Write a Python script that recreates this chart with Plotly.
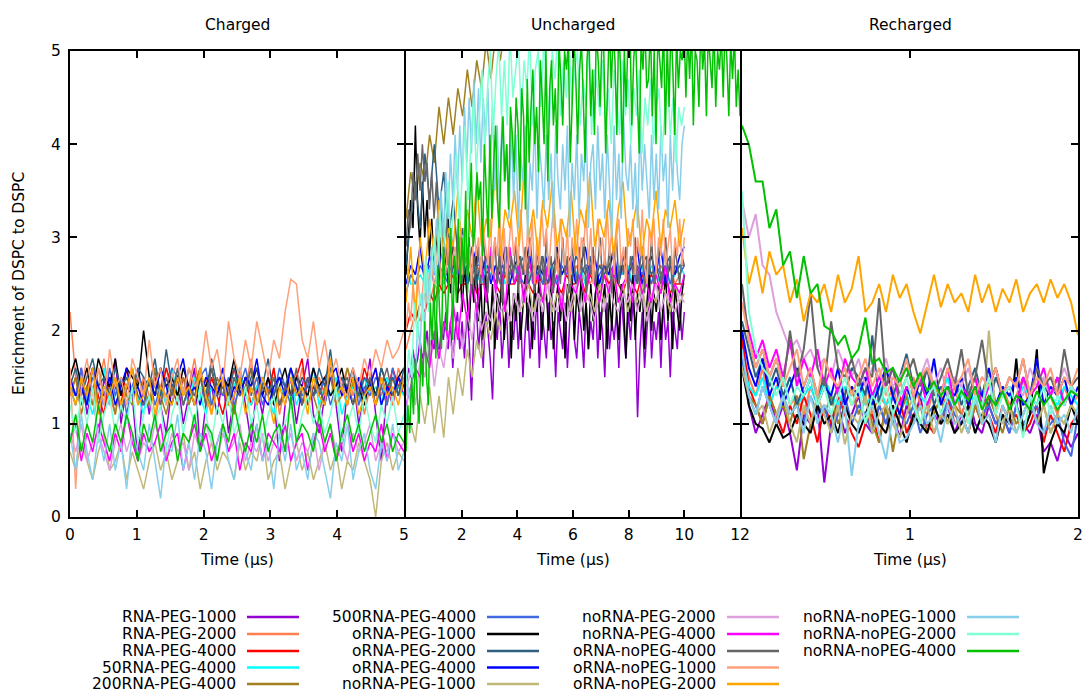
import numpy as np
import plotly.graph_objects as go

# ---------------- series names & colours ----------------
names = ["RNA-PEG-1000", "RNA-PEG-2000", "RNA-PEG-4000", "50RNA-PEG-4000", "200RNA-PEG-4000",
         "500RNA-PEG-4000", "oRNA-PEG-1000", "oRNA-PEG-2000", "oRNA-PEG-4000", "noRNA-PEG-1000",
         "noRNA-PEG-2000", "noRNA-PEG-4000", "oRNA-noPEG-4000", "oRNA-noPEG-1000", "oRNA-noPEG-2000",
         "noRNA-noPEG-1000", "noRNA-noPEG-2000", "noRNA-noPEG-4000"]
colors = ["#9400D3", "#FF7F50", "#FF0000", "#00FFFF", "#A08020",
          "#4169E1", "#000000", "#306080", "#0000FF", "#C0B878",
          "#DDA0DD", "#FF00FF", "#666666", "#FFA07A", "#FFA500",
          "#87CEEB", "#7FFFD4", "#00C000"]

panel_titles = ["Charged", "Uncharged", "Recharged"]
panel_xmax = [5, 12, 2]
panel_ticks = [[0, 1, 2, 3, 4, 5], [0, 2, 4, 6, 8, 10, 12], [0, 1, 2]]
panel_ticktext = [["0", "1", "2", "3", "4", "5"], ["", "2", "4", "6", "8", "10", "12"], ["", "1", "2"]]
y_ticks = [0, 1, 2, 3, 4, 5]

# ---------------- Charged (0-5 us) ----------------
c_rna_peg1000 = [1.5,1.3,1.6,1.1,1.4,0.8,1.5,1.2,1.7,1.0,1.4,1.3,0.6,1.5,1.1,1.6,1.2,0.9,1.4,1.5,1.0,1.3,1.6,0.7,1.2,1.4,1.1,1.5,0.9,1.3,1.6,1.2,0.8,1.4,1.1,1.5,1.3,0.6,1.2,1.5,1.0,1.4,1.7,1.1,0.9,1.3,1.6,1.2,0.7,1.4,1.5,1.0,1.3,1.7,1.1,0.6,1.4,1.2,1.5,1.3]
c_rna_peg2000 = [2.2,1.5,1.3,1.6,1.2,1.4,1.7,1.3,1.1,1.5,1.4,1.6,1.2,1.5,1.3,1.0,1.4,1.6,1.3,1.5,1.2,1.4,1.7,1.3,1.5,1.1,1.4,1.6,1.2,1.5,1.3,1.4,1.7,1.2,1.5,1.3,1.6,1.1,1.4,1.5,1.3,1.6,1.2,1.4,1.5,1.3,1.7,1.2,1.4,1.6,1.3,1.5,1.1,1.4,1.6,1.3,1.5,1.2,1.6,1.4]
c_rna_peg4000 = [1.3,1.5,1.2,1.4,1.6,1.3,1.1,1.5,1.4,1.2,1.6,1.3,1.5,1.4,1.2,1.5,1.3,1.6,1.4,1.2,1.5,1.3,1.4,1.6,1.2,1.5,1.3,1.1,1.4,1.6,1.3,1.5,1.2,1.4,1.5,1.3,1.6,1.2,1.4,1.3,1.5,1.7,1.2,1.4,1.3,1.5,1.6,1.3,1.4,1.2,1.5,1.3,1.6,1.4,1.2,1.5,1.3,1.6,1.4,1.5]
c_50rna_peg4000 = [1.4,1.2,1.5,1.3,1.1,1.4,1.6,1.2,1.3,1.5,1.2,1.4,1.3,1.1,1.5,1.3,1.4,1.2,1.6,1.3,1.4,1.2,1.5,1.3,1.1,1.4,1.3,1.5,1.2,1.4,1.6,1.3,1.2,1.4,1.5,1.3,1.1,1.4,1.3,1.5,1.2,1.4,1.3,1.6,1.2,1.4,1.3,1.5,1.1,1.3,1.4,1.2,1.5,1.3,1.4,1.2,1.5,1.3,1.4,1.3]
c_200rna_peg4000 = [1.3,1.5,1.1,1.4,1.2,1.6,1.3,1.4,1.1,1.5,1.3,1.2,1.5,1.4,1.2,1.6,1.3,1.1,1.4,1.3,1.5,1.2,1.4,1.6,1.3,1.2,1.5,1.3,1.4,1.1,1.5,1.3,1.6,1.2,1.4,1.3,1.5,1.2,1.3,1.6,1.4,1.2,1.5,1.3,1.1,1.4,1.5,1.2,1.3,1.6,1.4,1.3,1.2,1.5,1.3,1.4,1.2,1.5,1.3,1.4]
c_500rna_peg4000 = [1.4,1.3,1.6,1.2,1.5,1.4,1.2,1.6,1.3,1.5,1.1,1.4,1.6,1.3,1.5,1.2,1.4,1.3,1.6,1.5,1.2,1.4,1.3,1.5,1.6,1.2,1.4,1.3,1.5,1.2,1.4,1.6,1.3,1.5,1.2,1.4,1.3,1.6,1.4,1.2,1.5,1.3,1.4,1.6,1.3,1.5,1.2,1.4,1.5,1.3,1.6,1.2,1.4,1.3,1.5,1.4,1.2,1.6,1.3,1.5]
c_orna_peg1000 = [1.5,1.7,1.4,1.6,1.3,1.7,1.5,1.4,1.7,1.3,1.6,1.5,1.4,2.0,1.5,1.3,1.6,1.4,1.5,1.3,1.6,1.4,1.2,1.5,1.4,1.6,1.3,1.5,1.4,1.7,1.3,1.5,1.4,1.6,1.3,1.5,1.2,1.4,1.6,1.3,1.5,1.4,1.3,1.6,1.4,1.5,1.3,1.4,1.6,1.3,1.5,1.4,1.2,1.5,1.3,1.6,1.4,1.3,1.5,1.6]
c_orna_peg2000 = [1.4,1.6,1.3,1.5,1.7,1.4,1.5,1.3,1.6,1.4,1.5,1.3,1.6,1.5,1.4,1.7,1.3,1.8,1.4,1.5,1.3,1.6,1.4,1.5,1.3,1.7,1.4,1.5,1.3,1.6,1.4,1.3,1.5,1.6,1.4,1.7,1.3,1.5,1.4,1.6,1.3,1.5,1.4,1.3,1.6,1.4,1.8,1.3,1.5,1.4,1.6,1.3,1.5,1.4,1.3,1.6,1.4,1.5,1.3,1.6]
c_orna_peg4000 = [1.5,1.3,1.4,1.2,1.6,1.4,1.3,1.5,1.2,1.4,1.6,1.3,1.4,1.2,1.5,1.3,1.6,1.4,1.2,1.5,1.7,1.3,1.4,1.2,1.5,1.4,1.3,1.6,1.2,1.4,1.3,1.5,1.4,1.7,1.3,1.2,1.4,1.5,1.3,1.6,1.4,1.2,1.5,1.3,1.4,1.2,1.5,1.6,1.3,1.4,1.2,1.5,1.3,1.4,1.6,1.2,1.4,1.3,1.5,1.4]
c_norna_peg1000 = [0.7,0.5,0.8,0.6,0.4,0.7,0.9,0.5,0.6,0.8,0.4,0.7,0.5,0.3,0.6,0.8,0.5,0.7,0.4,0.6,0.9,0.5,0.7,0.3,0.6,0.8,0.5,0.7,0.6,0.4,0.8,0.5,0.7,0.6,0.9,0.4,0.6,0.7,0.3,0.6,0.8,0.5,0.7,0.4,0.6,0.8,0.5,0.7,0.3,0.6,0.5,0.8,0.6,0.4,0.0,0.6,0.8,0.5,0.7,0.6]
c_norna_peg2000 = [0.9,0.7,1.0,0.6,0.8,0.9,0.7,0.5,0.8,1.0,0.7,0.9,0.6,0.8,0.7,1.0,0.8,0.6,0.9,0.7,0.8,0.5,0.9,0.7,1.0,0.8,0.6,0.9,0.7,0.8,1.0,0.6,0.8,0.7,0.9,0.6,0.8,1.0,0.7,0.9,0.6,0.8,0.7,0.9,0.5,0.8,1.0,0.7,0.8,0.6,0.9,0.7,0.8,1.0,0.6,0.8,0.7,0.9,0.7,0.8]
c_norna_peg4000 = [0.8,1.0,0.6,0.9,0.7,1.0,0.8,0.6,0.9,0.7,1.1,0.8,0.6,0.9,0.7,0.8,1.0,0.6,0.8,0.9,0.5,0.8,1.0,0.7,0.9,0.6,0.8,1.0,0.7,0.9,0.5,0.8,0.7,1.0,0.6,0.9,0.8,0.7,1.0,0.6,0.8,0.9,0.5,0.8,1.0,0.7,0.9,0.6,0.8,1.0,0.7,0.9,0.6,0.8,0.7,1.0,0.6,0.9,0.8,0.7]
c_orna_nopeg4000 = [1.4,1.2,1.5,1.3,1.6,1.2,1.4,1.3,1.5,1.1,1.4,1.6,1.3,1.2,1.5,1.4,1.2,1.5,1.3,1.6,1.2,1.4,1.3,1.5,1.2,1.6,1.3,1.4,1.2,1.5,1.3,1.4,1.6,1.2,1.4,1.3,1.5,1.2,1.4,1.3,1.6,1.2,1.5,1.3,1.4,1.2,1.6,1.3,1.4,1.5,1.2,1.4,1.3,1.5,1.2,1.4,1.6,1.3,1.4,1.5]
c_orna_nopeg1000 = [1.6,0.3,1.4,1.7,1.3,1.6,1.2,1.8,1.4,1.5,1.2,1.7,1.5,1.3,1.9,1.4,1.6,1.2,1.5,1.7,1.3,1.6,1.4,1.5,2.0,1.6,1.8,1.4,2.1,1.7,1.5,1.9,1.6,2.1,1.8,1.5,1.9,1.7,2.2,2.55,2.5,1.9,1.7,2.1,1.6,1.9,1.5,1.7,1.4,1.3,1.6,1.4,1.7,1.5,1.8,1.6,1.9,1.7,1.8,2.0]
c_orna_nopeg2000 = [1.4,1.2,1.5,1.3,1.6,1.1,1.4,1.3,1.5,1.2,1.4,1.6,1.2,1.3,1.5,1.1,1.4,1.3,1.2,1.5,1.3,1.4,1.2,1.6,1.3,1.1,1.4,1.5,1.2,1.3,1.5,1.1,1.4,1.2,1.5,1.3,1.0,1.4,1.2,1.5,1.3,1.4,1.1,1.5,1.3,1.2,1.7,1.3,1.4,1.2,1.5,1.1,1.3,1.4,1.2,1.5,1.3,1.4,1.2,1.5]
c_norna_nopeg1000 = [0.9,0.5,1.1,0.7,0.4,0.9,0.6,1.0,0.5,0.8,0.3,0.9,0.7,0.5,1.0,0.6,0.2,0.8,0.7,1.1,0.5,0.8,0.4,0.9,0.7,0.3,0.8,1.0,0.6,0.4,0.9,0.7,0.5,1.0,0.6,0.8,0.3,0.9,0.6,1.0,0.5,0.7,0.4,0.9,0.8,0.5,0.2,0.8,0.6,1.0,0.4,0.7,0.9,0.5,0.3,0.8,0.6,1.0,0.5,0.7]
c_norna_nopeg2000 = [1.2,0.9,1.3,1.0,1.4,0.8,1.1,1.3,0.9,1.2,1.0,1.4,0.8,1.1,1.3,1.0,1.2,0.7,1.1,1.3,0.9,1.2,1.0,1.4,1.1,0.8,1.2,1.0,1.3,0.9,1.1,1.4,1.0,1.2,0.8,1.1,1.3,0.9,1.0,1.2,0.8,1.1,1.3,1.0,1.2,0.9,1.1,1.4,0.8,1.0,1.2,0.9,1.3,1.0,0.8,1.2,1.0,1.3,0.9,1.1]
c_norna_nopeg4000 = [0.8,1.1,0.7,1.0,0.8,1.2,0.9,0.7,1.0,0.8,1.1,0.9,0.6,1.0,0.8,1.1,0.7,0.9,1.0,0.6,0.9,0.8,1.1,0.7,1.0,0.9,0.6,1.0,0.8,1.2,0.9,0.7,1.0,0.8,1.1,0.7,0.9,1.0,0.7,1.3,0.8,1.0,0.9,0.7,1.1,0.8,1.0,0.6,0.9,1.1,0.8,1.0,0.7,0.9,1.1,0.8,1.0,0.7,0.9,0.8]

# ---------------- Uncharged (0-10 us; last series 0-12 us) ----------------
u_rna_peg1000 = [1.4,1.6,1.5,1.8,1.6,1.7,1.9,1.7,1.8,2.0,1.7,1.9,
                 1.8,2.1,1.7,2.0,1.9,2.2,1.8,2.1,1.6,2.0,2.2,1.8,
                 2.1,1.7,2.2,1.9,1.25,2.0,2.3,1.8,2.1,1.6,2.2,2.0,
                 1.7,1.26,2.1,1.9,2.3,1.7,2.0,2.2,1.6,2.1,1.9,2.3,
                 1.8,2.2,1.5,2.0,2.3,1.7,2.1,1.9,2.4,1.6,2.2,2.0,
                 1.7,2.3,1.9,2.1,1.5,2.2,2.0,1.8,2.3,1.6,2.1,2.4,
                 1.9,1.7,2.2,2.0,1.6,2.3,1.8,2.1,1.9,2.4,1.7,2.2,
                 2.0,1.5,2.3,1.8,2.1,1.9,2.2,1.6,2.4,2.0,1.7,2.2,
                 1.9,2.3,2.1,1.07,1.8,2.2,1.6,2.0,2.4,1.7,2.1,1.9,
                 2.2,1.6,2.3,1.9,2.1,1.5,2.2,2.0,1.8,2.3,1.9,2.2]
u_rna_peg2000 = [1.8,2.0,2.2,2.1,2.4,2.3,2.5,2.4,2.6,2.5,2.6,2.7,2.5,2.6,2.6,2.7,2.6,2.5,2.7,2.6,2.5,2.7,2.6,2.7,2.5,2.7,2.6,2.7,2.5,2.7,2.6,2.5,2.7,2.6,2.7,2.5,2.7,2.6,2.7,2.5,2.6,2.7,2.7,2.5,2.6,2.7,2.6,2.7,2.5,2.7,2.6,2.7,2.5,2.6,2.7,2.6,2.7,2.5,2.6,2.7]
u_rna_peg4000 = [2.0,2.2,2.1,2.3,2.2,2.4,2.3,2.5,2.4,2.5,2.6,2.4,2.5,2.5,2.6,2.4,2.5,2.5,2.6,2.5,2.4,2.6,2.5,2.5,2.6,2.4,2.5,2.4,2.6,2.5,2.5,2.6,2.5,2.4,2.6,2.5,2.5,2.6,2.4,2.6,2.5,2.4,2.6,2.5,2.6,2.5,2.4,2.6,2.5,2.4,2.6,2.5,2.6,2.5,2.4,2.6,2.4,2.5,2.5,2.5]
u_50rna_peg4000 = [2.7,2.5,2.5,2.6,2.5,2.7,2.6,2.7,2.5,2.7,2.6,2.5,2.7,2.5,2.7,2.6,2.5,2.7,2.6,2.5,2.7,2.5,2.6,2.7,2.5,2.7,2.6,2.5,2.7,2.5,2.6,2.7,2.5,2.6,2.7,2.5,2.6,2.7,2.5,2.7,2.6,2.5,2.7,2.6,2.5,2.7,2.6,2.7,2.5,2.6,2.7,2.5,2.7,2.6,2.5,2.7,2.5,2.6,2.7,2.6]
u_200rna_peg4000 = [3.2,3.7,3.4,3.8,3.6,4.1,3.8,4.4,4.0,4.5,4.1,4.6,4.3,4.8,4.4,4.9,4.6,5.1,4.7,5.2,4.9,5.3,5.1,5.4,5.3,5.5,5.4,5.6,5.5,5.7,5.6,5.8,5.6,5.7,5.8,5.9,5.7,5.9,6.0,5.8,6.0,6.1,5.9,6.0,6.1,6.2,6.0,6.1,6.2,6.3,6.1,6.2,6.3,6.2,6.4,6.3,6.2,6.4,6.3,6.4]
u_500rna_peg4000 = [2.4,2.6,2.5,2.7,2.6,2.7,2.5,2.7,2.6,2.5,2.7,2.6,2.7,2.5,2.6,2.7,2.7,2.5,2.6,2.7,2.5,2.7,2.6,2.7,2.6,2.5,2.7,2.6,2.7,2.5,2.7,2.6,2.5,2.7,2.6,2.7,2.5,2.6,2.7,2.7,2.5,2.6,2.7,2.6,2.7,2.5,2.7,2.6,2.5,2.7,2.6,2.7,2.5,2.7,2.6,2.7,2.5,2.7,2.6,2.7]
u_orna_peg1000 = [2.6,3.0,3.4,3.1,4.2,3.3,2.9,3.6,3.0,3.4,2.8,3.2,
                  2.7,3.1,2.5,3.0,2.8,2.6,3.2,2.4,2.9,2.6,2.3,2.8,
                  2.2,2.7,2.4,2.0,2.6,2.3,2.8,2.1,2.5,1.9,2.6,2.3,
                  2.0,2.5,1.8,2.4,2.2,2.6,1.9,2.3,2.5,1.7,2.4,2.1,
                  2.5,1.9,2.3,2.6,2.0,2.4,1.8,2.5,2.2,2.6,1.9,2.3,
                  2.4,2.0,2.6,1.8,2.3,2.5,2.1,2.4,1.7,2.5,2.2,2.6,
                  1.9,2.4,2.2,2.6,2.0,2.3,1.8,2.5,2.1,2.4,2.6,1.9,
                  2.3,2.5,1.8,2.4,2.0,2.6,2.2,1.9,2.5,2.3,1.7,2.4,
                  2.1,2.6,1.9,2.4,2.2,2.5,1.8,2.3,2.6,2.0,2.4,2.2,
                  2.5,1.9,2.3,2.6,2.1,2.4,1.8,2.5,2.2,2.0,2.4,2.6]
u_orna_peg2000 = [2.7,3.2,3.6,3.1,3.9,3.4,4.0,3.3,3.7,3.0,3.4,2.8,3.1,2.6,2.9,2.5,2.8,2.6,2.7,2.5,2.8,2.6,2.7,2.5,2.7,2.8,2.5,2.7,2.6,2.8,2.5,2.7,2.8,2.6,2.7,2.5,2.8,2.7,2.6,2.8,2.5,2.7,2.6,2.7,2.8,2.5,2.7,2.6,2.8,2.5,2.7,2.8,2.6,2.7,2.5,2.7,2.8,2.6,2.7,2.7]
u_orna_peg4000 = [2.5,2.7,2.6,2.9,2.5,2.8,2.6,2.7,2.9,2.5,2.7,2.6,2.8,2.5,2.7,2.9,2.6,2.8,2.5,2.7,2.6,2.9,2.5,2.7,2.8,2.6,2.9,2.5,2.7,2.6,2.8,2.5,2.9,2.6,2.7,2.8,2.5,2.7,2.9,2.6,2.8,2.5,2.7,2.6,2.9,2.5,2.8,2.6,2.7,2.9,2.5,2.7,2.8,2.6,2.9,2.5,2.7,2.6,2.8,2.9]
u_norna_peg1000 = [1.2,1.0,0.8,1.3,1.0,1.4,0.9,1.3,0.85,1.5,1.1,1.6,1.3,1.8,1.5,1.9,1.7,2.1,1.9,2.2,2.0,2.3,2.1,2.4,2.2,2.3,2.5,2.2,2.4,2.3,2.5,2.2,2.4,2.3,2.5,2.2,2.4,2.6,2.3,2.4,2.2,2.5,2.3,2.4,2.6,2.3,2.5,2.2,2.4,2.3,2.5,2.2,2.4,2.3,2.5,2.4,2.2,2.5,2.3,2.4]
u_norna_peg2000 = [1.3,1.6,1.2,1.7,1.5,1.9,1.4,1.8,1.6,2.0,1.7,2.1,1.8,2.2,1.9,2.3,2.0,2.2,2.1,2.4,2.2,2.3,2.1,2.4,2.2,2.5,2.3,2.1,2.4,2.2,2.5,2.3,2.2,2.4,2.1,2.3,2.5,2.2,2.4,2.3,2.1,2.4,2.2,2.5,2.3,2.2,2.4,2.3,2.5,2.2,2.4,2.1,2.3,2.5,2.2,2.4,2.3,2.2,2.4,2.3]
u_norna_peg4000 = [1.2,1.4,1.6,1.5,1.8,1.6,2.0,1.7,2.1,1.9,2.3,1.9,2.4,2.1,2.6,2.2,2.7,2.3,2.9,2.4,2.8,2.2,2.9,2.5,2.7,2.3,2.8,2.5,2.6,2.3,2.7,2.4,2.6,2.2,2.7,2.5,2.4,2.6,2.3,2.7,2.5,2.3,2.6,2.4,2.7,2.3,2.5,2.6,2.3,2.7,2.4,2.5,2.3,2.6,2.4,2.7,2.3,2.5,2.4,2.6]
u_orna_nopeg4000 = [2.9,3.3,3.1,3.7,3.4,3.9,3.5,4.0,3.6,3.8,3.3,3.7,
                    3.2,3.6,3.0,3.4,2.8,3.2,2.7,3.1,2.9,2.6,3.0,2.7,
                    2.5,2.9,2.7,3.0,2.4,2.8,2.6,2.9,2.5,3.0,2.7,2.4,
                    2.8,2.6,3.0,2.5,2.9,2.3,2.7,2.9,2.5,2.8,2.6,3.0,
                    2.4,2.8,2.6,2.9,2.5,3.0,2.7,2.4,2.9,2.6,2.8,2.5,
                    3.0,2.6,2.8,2.4,2.9,2.7,2.5,3.0,2.6,2.8,2.4,2.9,
                    2.7,2.5,2.9,2.6,3.0,2.4,2.8,2.6,2.9,2.5,2.7,3.0,
                    2.5,2.8,2.6,2.9,2.4,2.7,3.0,2.5,2.8,2.6,2.9,2.4,
                    2.8,2.6,3.0,2.5,2.7,2.9,2.4,2.8,2.6,3.0,2.5,2.7,
                    2.9,2.5,2.7,3.0,2.6,2.8,2.4,2.9,2.7,2.5,2.8,2.7]
u_orna_nopeg1000 = [2.0,2.3,2.1,2.5,2.2,2.6,2.3,2.4,2.7,2.3,2.6,2.8,
                    2.4,2.7,2.9,2.5,2.8,2.6,3.0,2.5,2.8,2.9,2.6,3.0,
                    2.6,3.1,2.7,2.9,2.5,3.2,2.8,3.0,2.6,3.1,2.9,2.7,
                    3.2,2.6,3.0,2.8,3.3,2.7,3.1,2.5,2.9,3.2,2.8,3.0,
                    2.7,3.3,2.9,2.6,3.1,2.8,3.2,2.5,3.0,2.7,3.3,2.9,
                    3.1,2.6,3.0,3.3,2.8,2.6,3.2,2.9,2.7,3.1,2.5,3.0,
                    2.8,3.2,2.6,3.0,2.9,3.3,2.7,3.1,2.5,2.9,3.2,2.8,
                    3.0,2.7,3.3,2.8,3.1,2.6,3.0,3.2,2.7,2.9,2.5,3.1,
                    2.9,3.2,2.6,3.0,2.8,3.3,2.7,2.5,3.1,2.9,3.2,2.6,
                    3.0,2.8,3.2,2.7,2.9,3.1,2.6,3.0,2.8,3.2,2.7,3.0]
u_orna_nopeg2000 = [2.3,2.9,2.1,3.0,2.6,3.2,2.8,3.4,2.7,3.1,2.9,3.5,2.8,3.3,3.0,3.6,2.9,3.2,3.0,3.8,2.8,3.3,3.1,3.5,2.9,3.7,3.0,3.3,2.8,3.4,3.1,3.6,2.9,3.2,3.0,3.5,2.8,3.3,3.1,3.7,2.9,3.2,3.0,3.4,2.8,3.3,3.6,2.9,3.1,3.4,2.8,3.2,3.0,3.5,2.9,3.3,3.1,3.4,2.9,3.2]
u_norna_nopeg1000 = [1.0,1.4,1.2,1.7,1.5,2.1,1.8,2.4,2.0,2.7,2.3,2.9,
                     2.6,3.2,2.8,3.5,3.0,3.7,3.2,3.9,3.4,4.1,3.5,4.2,
                     3.6,4.4,3.8,4.5,3.9,4.7,4.0,4.6,3.8,4.5,4.1,4.6,
                     3.7,4.4,3.5,4.2,3.3,4.3,3.6,4.0,3.2,4.2,3.4,4.1,
                     3.1,3.9,3.6,4.2,3.0,3.8,3.5,4.3,3.2,4.0,3.7,3.3,
                     4.1,3.4,3.9,3.1,4.2,3.6,3.3,4.0,3.5,4.2,3.0,3.8,
                     3.4,4.1,3.2,3.9,3.6,4.3,3.1,3.8,4.0,3.3,4.2,3.5,
                     3.9,3.2,4.1,3.6,3.0,4.2,3.4,3.9,3.2,4.3,3.7,3.5,
                     4.0,3.3,3.8,3.1,4.2,3.5,4.0,3.6,3.2,4.1,3.4,3.9,
                     3.3,4.2,3.6,3.9,3.1,4.1,3.5,4.3,3.7,3.4,4.0,4.2]
u_norna_nopeg2000 = [1.4,1.8,1.5,2.3,1.9,2.4,2.1,2.8,2.2,2.6,
                     3.0,2.5,3.3,2.7,3.1,3.6,2.9,3.4,3.9,3.1,
                     3.7,4.2,3.4,4.0,4.5,3.7,4.3,4.8,3.9,4.6,
                     5.0,4.1,4.7,5.1,4.3,4.9,4.2,5.2,4.5,4.8,
                     5.1,4.3,4.9,4.6,5.2,4.2,4.8,5.0,4.4,5.1,
                     4.6,4.2,5.0,4.7,5.2,4.3,4.9,4.5,5.1,4.4,
                     4.8,5.0,4.2,4.7,4.4,5.1,4.1,4.8,4.6,4.3,
                     4.9,4.2,4.6,4.0,4.8,4.4,4.1,4.9,4.3,4.7,
                     4.0,4.6,4.3,4.8,3.9,4.5,4.2,4.7,4.0,4.4,
                     4.6,3.9,4.3,4.7,4.1,4.5,3.8,4.4,4.2,4.4]
u_norna_nopeg4000 = [0.7,1.2,0.9,1.5,1.1,1.7,1.3,1.0,1.8,1.4,
                     2.1,1.5,1.2,2.3,1.9,2.5,1.7,2.7,2.2,1.8,
                     2.9,2.4,2.0,2.6,3.1,1.9,2.8,2.3,3.2,2.5,
                     3.0,2.6,3.5,2.4,3.3,3.8,2.9,3.1,3.7,3.4,
                     3.6,2.8,4.0,3.5,3.0,4.1,3.2,3.8,4.2,3.4,
                     3.1,3.9,4.3,3.6,4.0,3.3,4.4,4.1,3.7,4.5,
                     4.2,3.5,4.6,4.3,3.3,4.7,3.8,4.4,4.8,4.0,
                     4.4,3.7,4.9,4.5,4.0,5.0,3.6,4.6,4.9,4.2,
                     4.6,3.9,5.1,4.7,4.2,5.0,4.8,5.1,3.8,4.4,
                     5.2,4.7,4.0,4.8,5.1,4.5,3.8,4.9,5.2,4.3,
                     4.8,4.1,5.2,4.9,4.4,5.1,5.0,3.9,4.6,5.3,
                     4.6,5.2,4.9,4.1,5.3,4.8,3.8,5.0,4.4,5.2,
                     5.3,4.2,4.9,5.2,4.5,3.9,5.1,4.8,5.3,4.6,
                     4.7,5.3,4.3,5.0,4.0,5.2,4.9,4.6,5.3,4.1,
                     5.1,4.4,5.3,4.8,4.1,5.2,4.6,5.0,4.9,5.3,
                     4.5,5.2,4.7,5.3,4.2,5.0,4.9,4.4,5.3,4.8,
                     5.1,4.3,5.2,4.9,4.6,5.3,4.4,5.0,4.8,5.2,
                     4.5,5.3,4.9,4.3,5.1,4.7,5.2,4.4,4.8,4.3]
u_tmax = [10]*17 + [12]

# ---------------- Recharged (0-2 us) ----------------
r_rna_peg1000 = [2.0,1.2,0.9,1.1,1.3,1.0,1.2,0.9,0.5,1.1,1.0,1.2,0.37,1.0,1.2,0.9,1.1,1.3,1.0,0.9,1.2,1.0,1.1,0.85,1.2,1.0,1.3,0.9,1.1,1.0,1.2,0.9,1.1,1.3,1.0,0.9,1.2,1.0,1.1,0.9,1.2,1.0,0.9,1.1,0.7,0.8,0.6,0.9,0.75,0.9]
r_rna_peg2000 = [1.8,1.5,1.3,1.6,1.2,1.4,1.5,1.2,1.3,1.1,1.4,1.2,1.5,1.3,1.1,1.4,1.2,1.3,1.5,1.1,1.3,1.2,1.4,1.1,1.3,1.5,1.2,1.1,1.4,1.3,1.2,1.4,1.1,1.3,1.5,1.2,1.3,1.1,1.4,1.2,1.3,1.5,1.1,1.2,1.4,1.3,1.1,1.4,1.2,1.3]
r_rna_peg4000 = [1.9,1.4,1.2,1.0,1.3,1.1,0.9,1.2,1.0,1.3,1.1,0.8,1.2,1.0,1.3,1.1,0.9,0.75,1.0,1.1,0.8,1.2,1.0,1.3,0.9,1.1,1.2,1.0,0.9,1.1,1.3,1.0,1.1,0.9,1.2,1.0,1.1,0.9,1.2,1.0,1.1,0.9,1.0,1.2,0.8,1.1,0.9,0.7,1.0,1.1]
r_50rna_peg4000 = [1.7,1.4,1.3,1.5,1.2,1.4,1.3,1.5,1.2,1.3,1.4,1.2,1.5,1.3,1.2,1.4,1.3,1.5,1.2,1.3,1.4,1.2,1.3,1.5,1.2,1.4,1.3,1.2,1.4,1.3,1.5,1.2,1.3,1.4,1.2,1.3,1.5,1.2,1.4,1.3,1.2,1.4,1.3,1.2,1.5,1.3,1.2,1.4,1.3,1.2]
r_200rna_peg4000 = [1.6,1.3,1.2,1.0,1.3,1.1,1.2,1.0,1.3,0.62,1.0,1.2,1.1,1.3,1.0,1.2,1.4,1.1,1.3,1.0,0.8,1.2,0.7,1.1,1.3,1.0,1.2,0.9,1.1,1.3,1.0,1.2,1.1,0.9,1.2,1.0,1.3,1.1,0.9,1.2,1.0,1.1,1.3,1.0,1.2,0.9,1.1,1.0,1.2,1.1]
r_500rna_peg4000 = [1.7,1.3,1.1,1.4,1.2,1.0,1.3,1.1,1.2,1.0,1.3,1.1,1.2,0.9,1.1,1.3,1.0,1.2,1.1,0.9,1.2,1.0,1.3,1.1,1.0,1.2,0.9,1.1,1.2,1.0,1.3,1.1,1.0,1.2,0.9,1.1,1.2,1.0,1.1,0.9,1.2,1.0,1.1,1.2,0.9,1.0,1.1,0.8,0.65,1.1]
r_orna_peg1000 = [1.6,1.2,1.0,0.95,0.8,1.0,0.85,0.9,1.1,1.0,0.9,1.2,1.0,1.1,0.9,1.2,1.0,0.9,1.1,1.3,1.0,0.9,1.2,1.0,0.8,1.1,1.0,0.9,1.2,1.0,1.1,0.9,1.0,1.2,0.9,1.1,1.0,0.8,1.1,1.0,1.7,0.9,1.1,1.8,0.47,0.8,1.0,0.9,1.2,1.0]
r_orna_peg2000 = [2.1,1.8,1.5,1.7,1.4,1.6,1.3,1.5,1.2,1.4,1.6,1.3,1.5,1.2,1.4,1.3,1.6,1.5,1.3,1.95,1.2,1.6,1.3,1.5,1.75,1.4,1.3,1.6,1.2,1.4,1.3,1.5,1.2,1.4,1.6,1.3,1.2,1.5,1.3,1.4,1.2,1.5,1.3,1.2,1.4,1.3,1.5,1.2,1.4,1.3]
r_orna_peg4000 = [2.0,1.6,1.4,1.7,1.3,1.5,1.2,1.4,1.6,1.3,1.5,1.2,1.4,1.3,1.6,1.2,1.4,1.3,1.5,1.2,1.4,1.6,1.3,1.1,1.4,1.2,1.5,1.3,1.7,1.2,1.4,1.3,1.5,1.2,1.4,1.3,1.6,1.2,1.4,1.3,1.5,1.2,1.3,1.7,1.2,1.4,1.3,1.5,1.2,1.4]
r_norna_peg1000 = [1.6,1.3,1.1,1.2,0.9,1.1,1.3,1.0,0.8,1.2,1.0,1.3,1.1,0.9,1.2,0.78,1.1,1.0,1.3,0.9,1.1,1.2,1.0,0.85,1.1,1.3,1.0,1.2,0.9,1.1,1.0,1.2,0.9,1.1,1.3,1.0,2.0,1.1,1.0,1.2,0.9,1.1,1.3,1.0,1.2,0.9,1.1,1.0,1.2,1.1]
r_norna_peg2000 = [3.4,3.0,3.25,2.7,2.6,2.2,2.0,1.8,1.9,1.7,1.8,1.6,1.7,1.5,1.8,1.6,1.5,1.7,1.4,1.6,1.5,1.7,1.4,1.5,1.6,1.4,1.5,1.7,1.4,1.6,1.3,1.5,1.4,1.6,1.3,1.5,1.4,1.6,1.3,1.5,1.4,1.3,1.6,1.4,1.5,1.3,1.4,1.6,1.4,1.3]
r_norna_peg4000 = [2.3,2.0,1.7,1.9,1.6,1.8,1.5,1.9,1.4,1.7,1.5,1.8,1.4,1.6,1.3,1.7,1.5,1.4,1.6,1.3,1.5,1.4,1.6,1.2,1.4,1.3,1.5,1.2,1.4,1.3,1.6,1.2,1.4,1.3,1.5,1.2,1.4,1.6,1.3,1.4,1.2,1.5,1.3,1.4,1.6,1.3,1.5,1.2,1.4,1.3]
r_orna_nopeg4000 = [2.5,1.9,1.6,1.8,1.5,1.7,1.4,2.0,1.5,1.8,2.4,1.6,1.4,2.1,1.6,1.5,1.7,1.4,1.6,1.5,2.35,1.4,1.6,1.3,1.5,1.7,1.4,1.6,1.3,1.5,1.7,1.4,1.8,1.3,1.5,1.9,1.4,1.6,1.3,1.5,1.4,1.7,1.3,1.6,1.4,1.5,1.3,1.8,1.4,1.5]
r_orna_nopeg1000 = [2.3,1.9,1.6,1.8,1.5,1.7,1.4,1.6,1.8,1.4,1.6,1.3,1.7,1.5,1.4,1.6,1.3,1.5,1.7,1.4,1.6,1.3,1.5,1.4,1.7,1.3,1.5,1.6,1.4,1.3,1.6,1.4,1.5,1.7,1.3,1.5,1.4,1.6,1.3,1.5,1.4,1.7,1.3,1.5,1.4,1.6,1.3,1.5,1.4,1.6]
r_orna_nopeg2000 = [3.1,2.5,2.8,2.4,2.85,2.6,2.7,2.3,2.55,2.1,2.4,2.3,2.5,2.2,2.6,2.3,2.45,2.8,2.2,2.3,2.5,2.2,2.6,2.35,2.5,2.2,1.97,2.3,2.6,2.25,2.5,2.3,2.4,2.2,2.6,2.3,2.5,2.2,2.45,2.3,2.55,2.2,2.4,2.5,2.3,2.55,2.35,2.5,2.3,1.95]
r_norna_nopeg1000 = [1.8,1.3,1.1,1.4,1.2,1.0,1.3,1.1,1.2,0.9,1.3,1.0,1.2,1.1,0.8,1.2,0.44,1.0,1.1,1.2,0.9,0.62,1.1,0.8,0.85,1.0,1.2,1.0,1.1,0.8,1.2,1.0,1.1,0.9,1.3,1.0,1.1,0.8,1.2,1.0,0.9,1.1,1.3,1.0,0.9,1.2,1.0,1.1,0.9,1.2]
r_norna_nopeg2000 = [3.5,2.2,1.8,1.6,1.5,1.3,1.5,1.2,1.4,1.3,1.5,1.2,1.4,1.1,1.3,1.5,1.2,1.4,1.0,1.3,1.2,1.4,1.1,1.3,1.5,1.2,1.0,1.3,1.4,1.1,1.3,1.2,1.4,1.0,1.3,1.2,1.5,1.1,1.3,1.4,1.2,0.85,1.3,1.2,1.4,1.1,1.3,1.2,1.4,1.3]
r_norna_nopeg4000 = [4.2,4.0,3.6,3.6,3.1,3.3,2.7,2.85,2.35,2.8,2.4,2.5,2.05,2.0,1.85,1.95,1.7,1.8,2.14,1.65,1.7,1.55,1.6,1.45,1.6,1.4,1.55,1.35,1.45,1.3,1.4,1.2,1.35,1.25,1.4,1.15,1.3,1.2,1.35,1.15,1.3,1.25,1.15,1.35,1.2,1.3,1.15,1.25,1.35,1.3]

charged = [c_rna_peg1000, c_rna_peg2000, c_rna_peg4000, c_50rna_peg4000, c_200rna_peg4000,
           c_500rna_peg4000, c_orna_peg1000, c_orna_peg2000, c_orna_peg4000, c_norna_peg1000,
           c_norna_peg2000, c_norna_peg4000, c_orna_nopeg4000, c_orna_nopeg1000, c_orna_nopeg2000,
           c_norna_nopeg1000, c_norna_nopeg2000, c_norna_nopeg4000]
uncharged = [u_rna_peg1000, u_rna_peg2000, u_rna_peg4000, u_50rna_peg4000, u_200rna_peg4000,
             u_500rna_peg4000, u_orna_peg1000, u_orna_peg2000, u_orna_peg4000, u_norna_peg1000,
             u_norna_peg2000, u_norna_peg4000, u_orna_nopeg4000, u_orna_nopeg1000, u_orna_nopeg2000,
             u_norna_nopeg1000, u_norna_nopeg2000, u_norna_nopeg4000]
recharged = [r_rna_peg1000, r_rna_peg2000, r_rna_peg4000, r_50rna_peg4000, r_200rna_peg4000,
             r_500rna_peg4000, r_orna_peg1000, r_orna_peg2000, r_orna_peg4000, r_norna_peg1000,
             r_norna_peg2000, r_norna_peg4000, r_orna_nopeg4000, r_orna_nopeg1000, r_orna_nopeg2000,
             r_norna_nopeg1000, r_norna_nopeg2000, r_norna_nopeg4000]

# ---------------- figure ----------------
W, H = 1084, 693
FONT = "DejaVu Sans"
FS = 15.5
px = lambda x: x / W
py = lambda y: 1 - y / H

# plot-area pixel extents of the three panels (axis lines are drawn just outside)
x_left = [70, 406, 742]
x_right = [404, 740, 1078]
y_top, y_bot = 51, 517

fig = go.Figure()

for k, series_list in enumerate([charged, uncharged, recharged]):
    xa = "x" if k == 0 else f"x{k+1}"
    ya = "y" if k == 0 else f"y{k+1}"
    lw = 2 if k == 2 else 1.5
    for i, vals in enumerate(series_list):
        tmax = panel_xmax[k] if k != 1 else u_tmax[i]
        t = np.linspace(0, tmax, len(vals))
        fig.add_trace(go.Scatter(x=t, y=vals, mode="lines", name=names[i],
                                 line=dict(color=colors[i], width=lw),
                                 xaxis=xa, yaxis=ya, showlegend=False, hoverinfo="skip"))

axis_common = dict(showline=True, linecolor="black", linewidth=2, mirror="ticks",
                   ticks="inside", ticklen=7, tickwidth=2, tickcolor="black",
                   showgrid=False, zeroline=False, automargin=False,
                   tickfont=dict(family=FONT, size=FS, color="black"))

layout = dict(width=W, height=H, margin=dict(l=0, r=0, t=0, b=0, pad=0), autosize=False,
              template="none",
              plot_bgcolor="white", paper_bgcolor="white", showlegend=False,
              font=dict(family=FONT, size=FS, color="black"))

for k in range(3):
    sx = "" if k == 0 else str(k + 1)
    layout["xaxis" + sx] = dict(axis_common, domain=[px(x_left[k]), px(x_right[k])],
                                range=[0, panel_xmax[k]], tickvals=panel_ticks[k],
                                ticktext=panel_ticktext[k], anchor="y" + sx,
                                ticklabelstandoff=2)
    layout["yaxis" + sx] = dict(axis_common, domain=[py(y_bot), py(y_top)], range=[0, 5],
                                tickvals=y_ticks, showticklabels=(k == 0),
                                anchor="x" + sx, ticklabelstandoff=4)

fig.update_layout(**layout)

annotations = []
centers = [(x_left[k] + x_right[k]) / 2 for k in range(3)]
for k in range(3):
    annotations.append(dict(text=panel_titles[k], x=px(centers[k]), y=py(25), xref="paper", yref="paper",
                            showarrow=False, xanchor="center", yanchor="middle",
                            font=dict(family=FONT, size=FS, color="black")))
    annotations.append(dict(text="Time (µs)", x=px(centers[k]), y=py(560), xref="paper", yref="paper",
                            showarrow=False, xanchor="center", yanchor="middle",
                            font=dict(family=FONT, size=FS, color="black")))
annotations.append(dict(text="Enrichment of DSPC to DSPC", x=px(19), y=py((y_top + y_bot) / 2),
                        xref="paper", yref="paper", showarrow=False, textangle=-90,
                        xanchor="center", yanchor="middle",
                        font=dict(family=FONT, size=FS, color="black")))

# legend (gnuplot style: right aligned text followed by line sample, 5 rows per column)
shapes = []
col_text_end = [238, 478, 718, 958]
row_y = [617, 634, 651, 667.5, 684]
for i, nm in enumerate(names):
    c, r = divmod(i, 5)
    xe = col_text_end[c]
    annotations.append(dict(text=nm, x=px(xe), y=py(row_y[r]), xref="paper", yref="paper",
                            showarrow=False, xanchor="right", yanchor="middle",
                            font=dict(family=FONT, size=FS, color="black")))
    shapes.append(dict(type="line", xref="paper", yref="paper",
                       x0=px(xe + 9), x1=px(xe + 61), y0=py(row_y[r]), y1=py(row_y[r]),
                       line=dict(color=colors[i], width=2.5)))

fig.update_layout(annotations=annotations, shapes=shapes)
fig.write_html("out.html",
               post_script="document.body.style.margin='0';document.body.style.overflow='hidden';"
                           "document.documentElement.style.overflow='hidden';")
